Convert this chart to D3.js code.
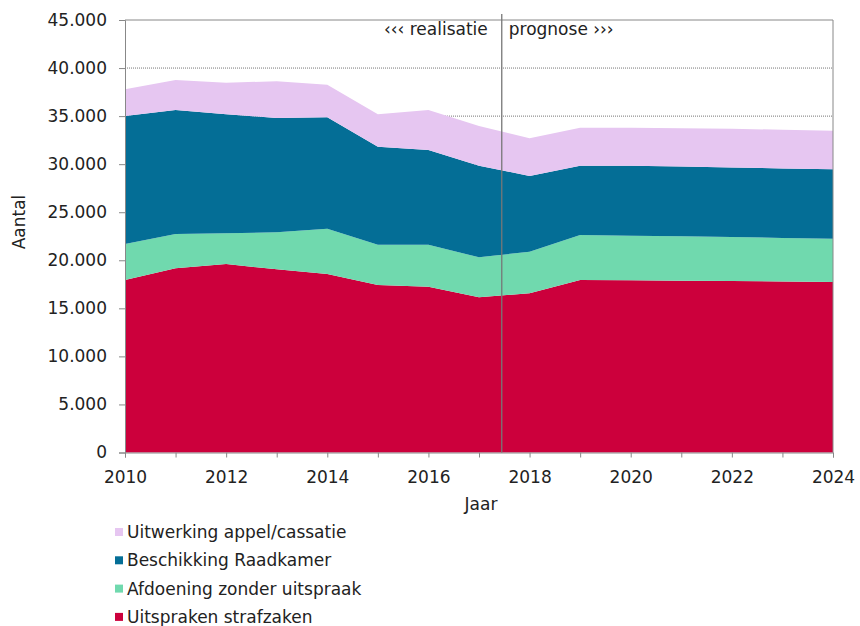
<!DOCTYPE html>
<html>
<head>
<meta charset="utf-8">
<script src="https://cdn.jsdelivr.net/npm/d3@7"></script>
<style>
  body { margin: 0; background: #fff; }
  text { font-family: "DejaVu Sans", Verdana, sans-serif; fill: #222; }
</style>
</head>
<body>
<svg id="chart" width="860" height="626"></svg>
<script>
// Years on the x axis
const years = [2010, 2011, 2012, 2013, 2014, 2015, 2016, 2017, 2018, 2019, 2020, 2021, 2022, 2023, 2024];

// Series values (number of cases), stacked bottom to top
const uitspraken  = [17950, 19160, 19610, 19060, 18570, 17430, 17250, 16150, 16560, 17950, 17910, 17880, 17840, 17790, 17740];
const afdoening   = [3740, 3570, 3190, 3850, 4720, 4190, 4370, 4160, 4330, 4680, 4650, 4620, 4580, 4540, 4510];
const beschikking = [13320, 12910, 12390, 11890, 11590, 10200, 9860, 9530, 7880, 7210, 7270, 7250, 7230, 7230, 7220];
const uitwerking  = [2780, 3120, 3290, 3820, 3390, 3370, 4160, 4130, 3920, 3960, 3970, 4000, 4030, 4020, 4010];

const seriesKeys = ["uitspraken", "afdoening", "beschikking", "uitwerking"];
const seriesNames = {
  uitspraken: "Uitspraken strafzaken",
  afdoening: "Afdoening zonder uitspraak",
  beschikking: "Beschikking Raadkamer",
  uitwerking: "Uitwerking appel/cassatie"
};
const seriesColors = {
  uitspraken: "#CC003C",
  afdoening: "#70D9AE",
  beschikking: "#046E96",
  uitwerking: "#E6C6F1"
};

// Y-axis ticks and x-axis labelled years
const yTicks = [0, 5000, 10000, 15000, 20000, 25000, 30000, 35000, 40000, 45000];
const xLabelYears = [2010, 2012, 2014, 2016, 2018, 2020, 2022, 2024];
const splitYear = 2017.45; // boundary between realisation and forecast

const table = years.map((y, i) => ({
  year: y,
  uitspraken: uitspraken[i],
  afdoening: afdoening[i],
  beschikking: beschikking[i],
  uitwerking: uitwerking[i]
}));

const svg = d3.select("#chart");
const m = { left: 125, right: 833, top: 20, bottom: 452.5 };

const x = d3.scaleLinear().domain([2010, 2024]).range([m.left, m.right]);
const y = d3.scaleLinear().domain([0, 45000]).range([m.bottom, m.top]);

const fmt = v => d3.format(",")(v).replace(/,/g, ".");

// Dotted gridlines
svg.append("g")
  .selectAll("line")
  .data(yTicks.filter(t => t > 0 && t < 45000))
  .join("line")
  .attr("x1", m.left).attr("x2", m.right)
  .attr("y1", d => y(d)).attr("y2", d => y(d))
  .attr("stroke", "#777")
  .attr("stroke-width", 1)
  .attr("stroke-dasharray", "1,1");

// Stacked areas
const stack = d3.stack().keys(seriesKeys);
const layers = stack(table);
const area = d3.area()
  .x(d => x(d.data.year))
  .y0(d => y(d[0]))
  .y1(d => y(d[1]));

svg.append("g")
  .selectAll("path")
  .data(layers)
  .join("path")
  .attr("fill", d => seriesColors[d.key])
  .attr("d", area);

// Plot frame (top and right)
svg.append("path")
  .attr("d", `M${m.left},${m.top}H${m.right}V${m.bottom}`)
  .attr("fill", "none")
  .attr("stroke", "#888")
  .attr("stroke-width", 1);

// Y axis
const yAxis = svg.append("g")
  .attr("transform", `translate(${m.left},0)`)
  .call(d3.axisLeft(y).tickValues(yTicks).tickFormat(fmt).tickSize(6).tickPadding(12));
yAxis.select(".domain").attr("stroke", "#888");
yAxis.selectAll(".tick line").attr("stroke", "#888");
yAxis.selectAll("text").style("font-size", "17px").attr("fill", "#222");

// X axis
const xAxis = svg.append("g")
  .attr("transform", `translate(0,${m.bottom})`)
  .call(d3.axisBottom(x).tickValues(years)
    .tickFormat(d => xLabelYears.includes(d) ? String(d) : "")
    .tickSize(5).tickPadding(13));
xAxis.select(".domain").attr("stroke", "#888");
xAxis.selectAll(".tick line").attr("stroke", "#888");
xAxis.selectAll("text").style("font-size", "17px").attr("fill", "#222");

// Axis titles
svg.append("text")
  .attr("transform", `translate(25,222) rotate(-90)`)
  .attr("text-anchor", "middle")
  .style("font-size", "17px")
  .text("Aantal");

svg.append("text")
  .attr("x", (m.left + m.right) / 2 + 2)
  .attr("y", 510)
  .attr("text-anchor", "middle")
  .style("font-size", "17px")
  .text("Jaar");

// Realisation / forecast divider
svg.append("line")
  .attr("x1", x(splitYear)).attr("x2", x(splitYear))
  .attr("y1", 14).attr("y2", m.bottom)
  .attr("stroke", "#777")
  .attr("stroke-width", 1.3);

svg.append("text")
  .attr("x", x(splitYear) - 14)
  .attr("y", 35)
  .attr("text-anchor", "end")
  .style("font-size", "17px")
  .text("\u2039\u2039\u2039 realisatie");

svg.append("text")
  .attr("x", x(splitYear) + 7)
  .attr("y", 35)
  .attr("text-anchor", "start")
  .style("font-size", "17px")
  .text("prognose \u203A\u203A\u203A");

// Legend (top layer first)
const legendKeys = seriesKeys.slice().reverse();
const legend = svg.append("g")
  .selectAll("g")
  .data(legendKeys)
  .join("g")
  .attr("transform", (d, i) => `translate(115,${532 + i * 28.3})`);

legend.append("rect")
  .attr("x", 0).attr("y", -4)
  .attr("width", 8).attr("height", 8)
  .attr("fill", d => seriesColors[d]);

legend.append("text")
  .attr("x", 12)
  .attr("y", 6)
  .style("font-size", "17px")
  .text(d => seriesNames[d]);
</script>
</body>
</html>
